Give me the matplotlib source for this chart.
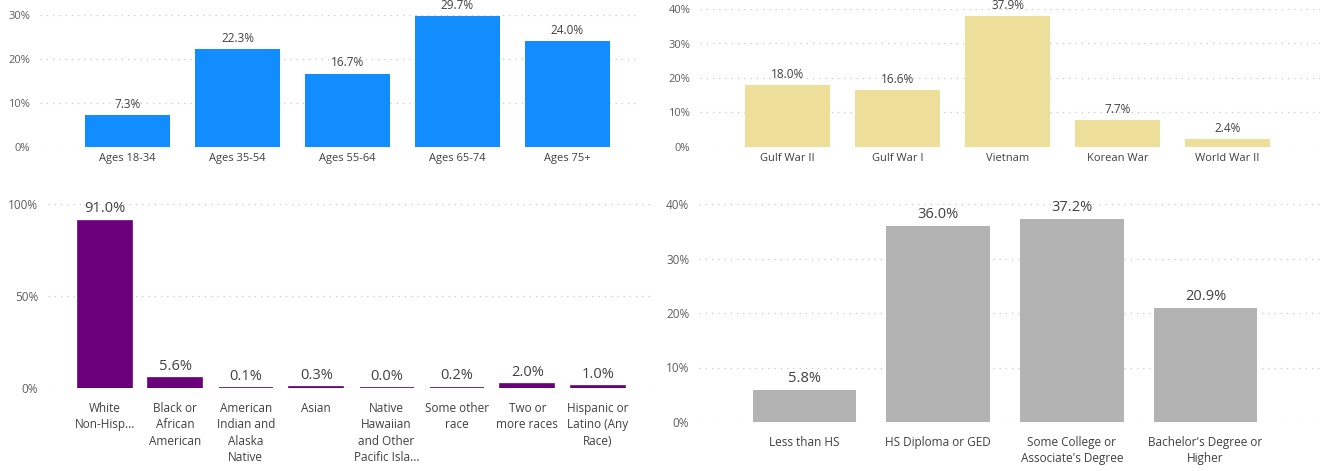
import matplotlib
matplotlib.use("Agg")
import matplotlib.pyplot as plt

# Veteran profile: four small bar charts
age_groups = ["Ages 18-34", "Ages 35-54", "Ages 55-64", "Ages 65-74", "Ages 75+"]
age_pct = [7.3, 22.3, 16.7, 29.7, 24.0]

war_eras = ["Gulf War II", "Gulf War I", "Vietnam", "Korean War", "World War II"]
war_pct = [18.0, 16.6, 37.9, 7.7, 2.4]

race_groups = ["White\nNon-Hisp...", "Black or\nAfrican\nAmerican",
               "American\nIndian and\nAlaska\nNative", "Asian",
               "Native\nHawaiian\nand Other\nPacific Isla...", "Some other\nrace",
               "Two or\nmore races", "Hispanic or\nLatino (Any\nRace)"]
race_pct = [91.0, 5.6, 0.1, 0.3, 0.0, 0.2, 2.0, 1.0]

edu_levels = ["Less than HS", "HS Diploma or GED",
              "Some College or\nAssociate's Degree", "Bachelor's Degree or\nHigher"]
edu_pct = [5.8, 36.0, 37.2, 20.9]

W, H = 1325, 471
plt.rcParams['font.family'] = ['Open Sans', 'DejaVu Sans']

fig = plt.figure(figsize=(W / 100, H / 100), dpi=100)
fig.patch.set_facecolor('white')


def draw_panel(cats, vals, color, yticks, left, right, y_zero, y_top,
               first_center, spacing, bar_px, tick_fs, val_fs, xpad, edge=0):
    ymax = yticks[-1]
    ax = fig.add_axes([left / W, 1 - y_zero / H, (right - left) / W, (y_zero - y_top) / H])
    xs = list(range(len(cats)))
    # a thin edge keeps near-zero bars visible as a sliver
    ax.bar(xs, vals, width=bar_px / spacing, color=color, edgecolor=color,
           linewidth=edge, zorder=2)
    ax.set_xlim((left - first_center) / spacing, (right - first_center) / spacing)
    ax.set_ylim(0, ymax)
    ax.set_yticks(yticks)
    ax.set_yticklabels([f"{t}%" for t in yticks])
    ax.set_xticks(xs)
    ax.set_xticklabels(cats, linespacing=1.35)
    ax.tick_params(axis='y', length=0, pad=7, labelsize=tick_fs, labelcolor='#605E5C')
    ax.tick_params(axis='x', length=0, pad=xpad, labelsize=tick_fs, labelcolor='#404040')
    for s in ax.spines.values():
        s.set_visible(False)
    ax.grid(axis='y', color='#C8C8C8', linewidth=0.9, linestyle=(0, (1, 4)), zorder=0)
    ax.set_axisbelow(True)
    for x, v in zip(xs, vals):
        ax.annotate(f"{v:.1f}%", (x, v), xytext=(0, 3), textcoords='offset points',
                    ha='center', va='bottom', fontsize=val_fs, color='#404040',
                    annotation_clip=False)
    return ax


draw_panel(age_groups, age_pct, '#118DFF', [0, 10, 20, 30],
           40, 640, 147, 15, 127.5, 110, 85, 8, 8.5, 4)
draw_panel(war_eras, war_pct, '#EDDF99', [0, 10, 20, 30, 40],
           700, 1320, 147, 9, 787.5, 110, 85, 8, 8.5, 4)
draw_panel(race_groups, race_pct, '#6B007B', [0, 50, 100],
           48, 650, 388, 204, 105, 70.4, 54, 8.5, 10.5, 10, edge=1.2)
draw_panel(edu_levels, edu_pct, '#B3B3B3', [0, 10, 20, 30, 40],
           699, 1320, 422, 204, 804.5, 133.7, 103.5, 8.5, 10.5, 10)

fig.savefig("out.png", dpi=100, facecolor='white')
